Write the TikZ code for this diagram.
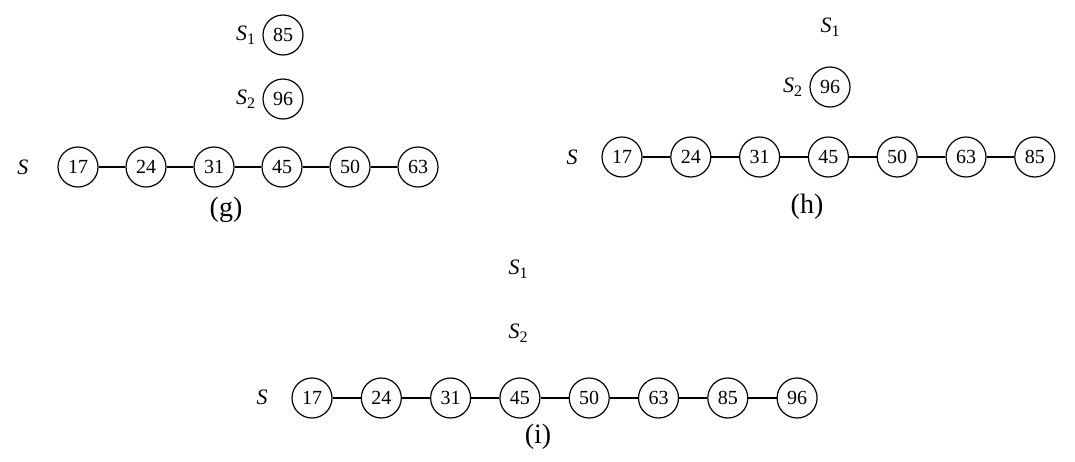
\documentclass[tikz,border=0pt]{standalone}
\usepackage{fontspec}
\setmainfont{Liberation Serif}
\usepackage{tikz}
\usetikzlibrary{positioning}
\newcommand{\lst}[1]{\textit{S}\raisebox{-0.45ex}{\fontsize{8}{9}\selectfont #1}}
\tikzset{
  key/.style={draw,circle,line width=0.6pt,minimum size=20pt,inner sep=0pt,font=\fontsize{10}{12}\selectfont},
  link/.style={draw,line width=0.55pt},
  lname/.style={inner sep=0pt,font=\fontsize{11}{13}\selectfont},
  panel/.style={inner sep=0pt,font=\fontsize{14}{16}\selectfont}}
\begin{document}
\begin{tikzpicture}[x=0.5pt,y=-0.5pt]
  \useasboundingbox (0,0) rectangle (1075,461);
  % (g)
  \foreach \v [count=\k] in {17,24,31,45,50,63}
    \node[key] (g\k) at ({78+68*(\k-1)},167) {\v};
  \foreach \k [evaluate=\k as \n using int(\k+1)] in {1,...,5}
    \draw[link] (g\k) -- (g\n);
  \node[key] (gs1) at (283,35) {85};
  \node[key] (gs2) at (283,99) {96};
  \node[lname,left=3.5pt of gs1] (gl1) {\lst{1}};
  \node[lname,left=3.5pt of gs2] (gl2) {\lst{2}};
  \node[lname] (gl) at (23,167) {\textit{S}};
  \node[panel] (gc) at (226,210) {(g)};
  % (h)
  \foreach \v [count=\k] in {17,24,31,45,50,63,85}
    \node[key] (h\k) at ({622+68.8*(\k-1)},157) {\v};
  \foreach \k [evaluate=\k as \n using int(\k+1)] in {1,...,6}
    \draw[link] (h\k) -- (h\n);
  \node[key] (hs2) at (830,87) {96};
  \node[lname,left=3.5pt of hs2] (hl2) {\lst{2}};
  \node[lname] (hl1) at (830,27) {\lst{1}};
  \node[lname] (hl) at (572,157) {\textit{S}};
  \node[panel] (hc) at (807,207) {(h)};
  % (i)
  \foreach \v [count=\k] in {17,24,31,45,50,63,85,96}
    \node[key] (i\k) at ({312+69.3*(\k-1)},398) {\v};
  \foreach \k [evaluate=\k as \n using int(\k+1)] in {1,...,7}
    \draw[link] (i\k) -- (i\n);
  \node[lname] (il1) at (518,269) {\lst{1}};
  \node[lname] (il2) at (518,333) {\lst{2}};
  \node[lname] (il) at (262,397) {\textit{S}};
  \node[panel] (ic) at (538,437) {(i)};
\end{tikzpicture}
\end{document}
